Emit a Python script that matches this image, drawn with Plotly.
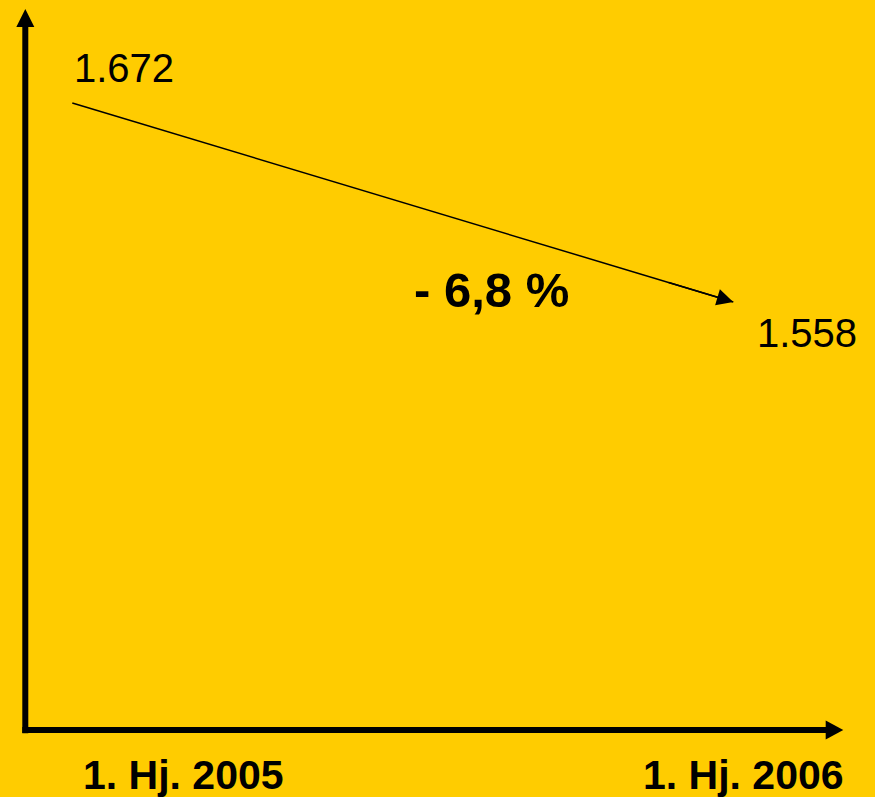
import plotly.graph_objects as go

# ---- data ----
periods = ["1. Hj. 2005", "1. Hj. 2006"]
values = [1672, 1558]
value_labels = ["1.672", "1.558"]
change_label = "- 6,8 %"

# ---- layout constants (pixels) ----
W, H = 875, 797
BG = "#FFCC00"
FONT = "Arial, Liberation Sans, Helvetica, sans-serif"

# pixel anchors for the data line (start / end) -> axis ranges
px_x0, px_x1 = 72.3, 733.3
px_y0, px_y1 = 103.0, 302.0
sx = (px_x1 - px_x0) / 1.0
sy = (px_y1 - px_y0) / (values[0] - values[1])
x_range = [-px_x0 / sx, (W - px_x0) / sx]
y_range = [values[0] - (H - px_y0) / sy, values[0] + px_y0 / sy]

def px(x):
    return x / W

def py(y):
    return 1 - y / H

xs = [0, 1]

fig = go.Figure()
fig.add_trace(go.Scatter(x=xs, y=values, mode="lines",
                         line=dict(color="black", width=1.5),
                         hoverinfo="skip", showlegend=False))

# arrowhead at end of data line
fig.add_annotation(x=xs[1], y=values[1], xref="x", yref="y",
                   ax=xs[0] + 0.9 * (xs[1] - xs[0]),
                   ay=values[0] + 0.9 * (values[1] - values[0]),
                   axref="x", ayref="y", showarrow=True, text="",
                   arrowhead=2, arrowsize=2.2, arrowwidth=1.5, arrowcolor="black")

# value labels
fig.add_annotation(x=xs[0], y=values[0], xref="x", yref="y", text=value_labels[0],
                   showarrow=False, xanchor="left", yanchor="middle",
                   xshift=0, yshift=35, font=dict(family=FONT, size=40, color="black"))
fig.add_annotation(x=xs[1], y=values[1], xref="x", yref="y", text=value_labels[1],
                   showarrow=False, xanchor="left", yanchor="middle",
                   xshift=22, yshift=-31, font=dict(family=FONT, size=40, color="black"))

# change label
fig.add_annotation(x=px(491.5), y=py(290), xref="paper", yref="paper",
                   text="<b>" + change_label + "</b>", showarrow=False,
                   xanchor="center", yanchor="middle",
                   font=dict(family=FONT, size=49, color="black"))

# period labels
for cx, t in zip([183, 743], periods):
    fig.add_annotation(x=px(cx), y=py(775), xref="paper", yref="paper",
                       text="<b>" + t + "</b>", showarrow=False,
                       xanchor="center", yanchor="middle",
                       font=dict(family=FONT, size=41, color="black"))

# axes with arrowheads (shapes in paper coords)
ax_x, ax_y = 25.3, 730.0
lw = 6
shapes = [
    dict(type="line", xref="paper", yref="paper", x0=px(ax_x), x1=px(ax_x),
         y0=py(733.3), y1=py(26), line=dict(color="black", width=lw)),
    dict(type="path", xref="paper", yref="paper",
         path=f"M {px(ax_x - 9)} {py(27)} L {px(ax_x + 9)} {py(27)} L {px(ax_x)} {py(9)} Z",
         fillcolor="black", line=dict(color="black", width=0)),
    dict(type="line", xref="paper", yref="paper", x0=px(22.3), x1=px(826),
         y0=py(ax_y), y1=py(ax_y), line=dict(color="black", width=lw)),
    dict(type="path", xref="paper", yref="paper",
         path=f"M {px(825.7)} {py(ax_y - 9.5)} L {px(825.7)} {py(ax_y + 9.5)} L {px(843.3)} {py(ax_y)} Z",
         fillcolor="black", line=dict(color="black", width=0)),
]

fig.update_layout(
    width=W, height=H,
    margin=dict(l=0, r=0, t=0, b=0),
    paper_bgcolor=BG, plot_bgcolor=BG,
    shapes=shapes,
    xaxis=dict(range=x_range, visible=False, fixedrange=True),
    yaxis=dict(range=y_range, visible=False, fixedrange=True),
    showlegend=False,
)

fig.write_html(
    "out.html",
    config={"displayModeBar": False},
    post_script="document.body.style.margin='0';document.body.style.padding='0';"
                "document.body.style.overflow='hidden';"
                "document.body.style.background='" + BG + "';",
)
